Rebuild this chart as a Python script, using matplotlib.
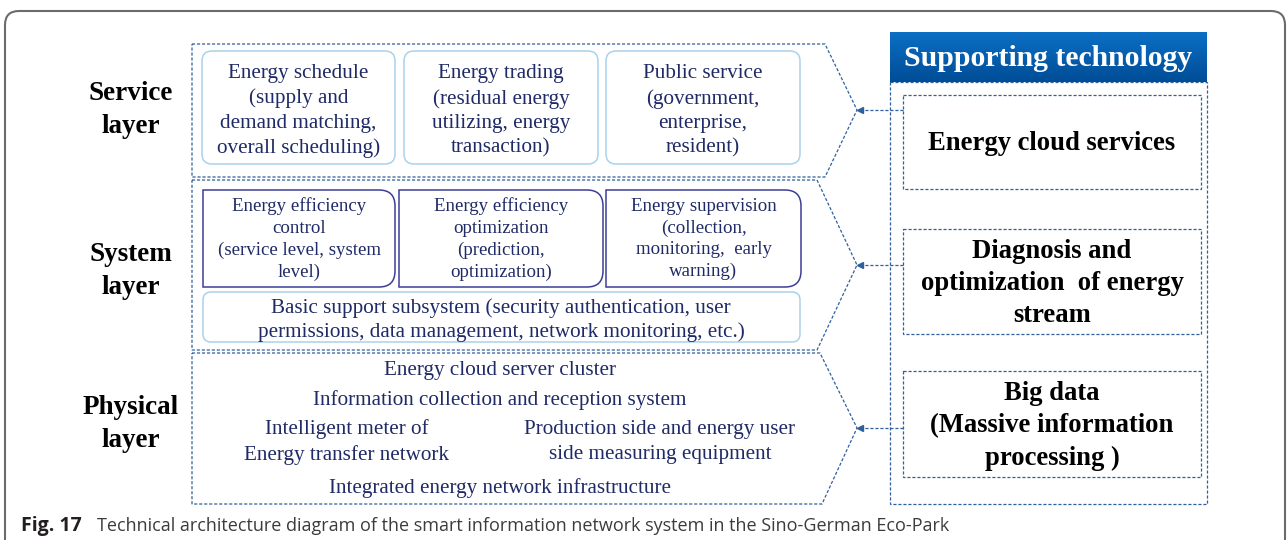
import numpy as np
import matplotlib
matplotlib.use('Agg')
import matplotlib.pyplot as plt
from matplotlib.patches import FancyBboxPatch, PathPatch, Polygon, Rectangle
from matplotlib.path import Path
from matplotlib.colors import LinearSegmentedColormap

# texts of the diagram
layer_names = ['Service\nlayer', 'System\nlayer', 'Physical\nlayer']
service_items = ['Energy schedule\n(supply and\ndemand matching,\noverall scheduling)',
                 'Energy trading\n(residual energy\nutilizing, energy\ntransaction)',
                 'Public service\n(government,\nenterprise,\nresident)']
system_items = ['Energy efficiency\ncontrol\n(service level, system\nlevel)',
                'Energy efficiency\noptimization\n(prediction,\noptimization)',
                'Energy supervision\n(collection,\nmonitoring,  early\nwarning)']
basic_support = 'Basic support subsystem (security authentication, user\npermissions, data management, network monitoring, etc.)'
physical_center = ['Energy cloud server cluster', 'Information collection and reception system']
physical_left = 'Intelligent meter of\nEnergy transfer network'
physical_right = 'Production side and energy user\nside measuring equipment'
physical_bottom = 'Integrated energy network infrastructure'
header = 'Supporting technology'
support_items = ['Energy cloud services',
                 'Diagnosis and\noptimization  of energy\nstream',
                 'Big data\n(Massive information\nprocessing )']
caption_bold = 'Fig. 17'
caption_text = 'Technical architecture diagram of the smart information network system in the Sino-German Eco-Park'

SERIF = 'Liberation Serif'
CAP = 'Open Sans'
DASH = '#2f5f9e'
NAVY = '#1f2a66'

fig = plt.figure(figsize=(12.87, 5.40), dpi=100)
ax = fig.add_axes([0, 0, 1, 1])
ax.set_xlim(0, 1287)
ax.set_ylim(540, 0)
ax.axis('off')

# outer frame
ax.add_patch(FancyBboxPatch((5, 11), 1280, 600, boxstyle='round,pad=0,rounding_size=14',
                            fc='none', ec='#6b6b6b', lw=1.5))

dash = (0, (2.5, 1.5))

# layer pentagons
shapes = [[(192, 44), (825, 44), (857, 110), (825, 177), (192, 177)],
          [(192, 180), (817, 180), (857, 265), (817, 350), (192, 350)],
          [(192, 353), (820, 353), (857, 428), (822, 504), (192, 504)]]
label_y = [110, 271, 424]
for pts, name, yy in zip(shapes, layer_names, label_y):
    ax.add_patch(Polygon(pts, closed=True, fc='none', ec=DASH, lw=0.9, ls=dash))
    ax.text(131, yy, name, ha='center', va='center', fontsize=19.5, fontweight='bold',
            family=SERIF, color='black', linespacing=1.38)

# service boxes
box_x = [(202, 395), (404, 598), (606, 800)]
for (x0, x1), s in zip(box_x, service_items):
    ax.add_patch(FancyBboxPatch((x0, 51), x1 - x0, 113, boxstyle='round,pad=0,rounding_size=10',
                                fc='white', ec='#a9d2ec', lw=1.1))
    ax.text((x0 + x1) / 2, 111, s, ha='center', va='center', fontsize=15.2,
            family=SERIF, color=NAVY, linespacing=1.39)


def right_round(x0, y0, x1, y1, r):
    verts = [(x0, y0), (x1 - r, y0), (x1, y0), (x1, y0 + r), (x1, y1 - r),
             (x1, y1), (x1 - r, y1), (x0, y1), (x0, y0)]
    codes = [Path.MOVETO, Path.LINETO, Path.CURVE3, Path.CURVE3, Path.LINETO,
             Path.CURVE3, Path.CURVE3, Path.LINETO, Path.CLOSEPOLY]
    return Path(verts, codes)


sys_x = [(203, 395), (399, 603), (606, 801)]
for (x0, x1), s in zip(sys_x, system_items):
    ax.add_patch(PathPatch(right_round(x0, 190, x1, 287, 16), fc='white', ec='#3d3d96', lw=1.1))
    ax.text((x0 + x1) / 2, 239, s, ha='center', va='center', fontsize=13.6,
            family=SERIF, color=NAVY, linespacing=1.35)

ax.add_patch(FancyBboxPatch((203, 292), 597, 50, boxstyle='round,pad=0,rounding_size=8',
                            fc='white', ec='#a9d2ec', lw=1.1))
ax.text(501, 320, basic_support, ha='center', va='center', fontsize=15.2,
        family=SERIF, color=NAVY, linespacing=1.32)

# physical layer
for s, yy in zip(physical_center, [371, 400]):
    ax.text(500, yy, s, ha='center', va='center', fontsize=15.2, family=SERIF, color=NAVY)
ax.text(347, 442, physical_left, ha='center', va='center', fontsize=15.2,
        family=SERIF, color=NAVY, linespacing=1.45)
ax.text(660, 442, physical_right, ha='center', va='center', fontsize=15.2,
        family=SERIF, color=NAVY, linespacing=1.45)
ax.text(500, 488, physical_bottom, ha='center', va='center', fontsize=15.2, family=SERIF, color=NAVY)

# supporting technology panel
cmap = LinearSegmentedColormap.from_list('hdr', ['#0b6fc4', '#004d97'])
ax.imshow(np.linspace(0, 1, 50).reshape(-1, 1), cmap=cmap, aspect='auto',
          extent=(890, 1207, 82, 32), zorder=2)
ax.text(1048, 58, header, ha='center', va='center', fontsize=21.4, fontweight='bold',
        family=SERIF, color='white', zorder=3)
ax.add_patch(Rectangle((890, 82), 317, 422, fc='none', ec=DASH, lw=0.9, ls=dash))

inner = [(95, 189), (229, 334), (371, 477)]
arrow_y = [110, 265, 428]
for (y0, y1), s, ay in zip(inner, support_items, arrow_y):
    ax.add_patch(Rectangle((903, y0), 298, y1 - y0, fc='none', ec=DASH, lw=0.9, ls=dash))
    ax.text(1052, (y0 + y1) / 2 + 2, s, ha='center', va='center', fontsize=19.2, fontweight='bold',
            family=SERIF, color='black', linespacing=1.38)
    ax.plot([903, 862], [ay, ay], color=DASH, lw=0.9, ls=dash)
    ax.plot(860, ay, marker='<', ms=4.5, color=DASH, mec=DASH)

# caption, sized to the width it has in the original
r = fig.canvas.get_renderer()
t1 = ax.text(21, 526, caption_bold, ha='left', va='center', fontsize=14, fontweight='bold',
             family=CAP, color='#231f20')
bb = t1.get_window_extent(r)
t1.set_fontsize(14 * 61 / bb.width)
t2 = ax.text(97, 526, caption_text, ha='left', va='center', fontsize=14,
             family=CAP, color='#3c3c3c')
bb2 = t2.get_window_extent(r)
t2.set_fontsize(14 * 858 / bb2.width)

fig.savefig('out.png', dpi=100)
